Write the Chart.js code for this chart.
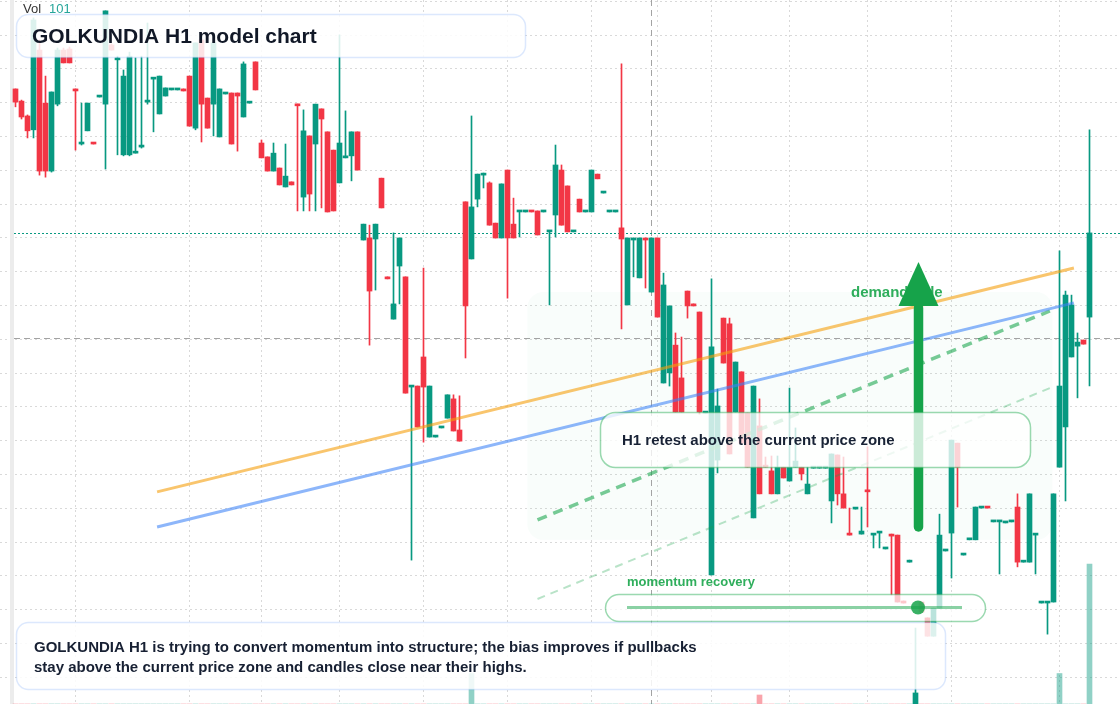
<!DOCTYPE html>
<html>
<head>
<meta charset="utf-8">
<title>GOLKUNDIA H1 model chart</title>
<script src="https://cdn.jsdelivr.net/npm/chart.js@4.4.1/dist/chart.umd.min.js"></script>
<style>
  html, body { margin: 0; padding: 0; background: #fff; }
  #wrap { position: relative; width: 1120px; height: 704px; }
</style>
</head>
<body>
<div id="wrap"><canvas id="chart_candles" width="1120" height="704"></canvas></div>
<script>
// H1 candles, one per hour (index 0 = oldest visible bar)
var opens = [
  144.41,144.05,143.61,143.20,145.56,143.99,141.98,143.96,145.56,145.59,
  144.41,142.78,143.17,142.81,144.17,143.96,145.71,145.27,142.46,142.46,
  142.51,142.69,144.02,144.70,143.67,144.20,144.38,144.38,144.41,144.79,
  143.25,145.86,144.14,143.96,142.99,144.26,144.29,144.29,143.58,143.99,
  145.21,142.81,142.40,141.98,142.07,141.51,141.66,143.96,141.21,143.02,
  142.78,143.82,143.14,142.60,141.63,142.37,142.43,143.14,139.94,140.00,
  139.97,141.77,138.85,137.60,139.17,138.85,135.59,135.62,136.48,134.11,
  134.11,134.38,134.67,135.24,134.32,141.07,139.38,141.15,141.86,141.63,
  140.44,140.00,142.01,140.41,140.77,140.77,140.80,140.80,140.77,140.18,
  140.68,142.01,141.54,140.18,141.15,140.77,140.77,141.89,141.33,140.77,
  140.77,140.30,138.02,139.94,138.82,140.00,138.40,140.00,135.71,136.01,
  136.83,135.86,138.43,138.05,137.81,134.82,130.03,133.43,137.63,137.46,
  134.85,136.04,134.82,131.72,134.44,133.28,133.11,132.43,133.22,132.81,
  133.22,133.22,132.43,133.19,133.19,133.19,132.22,133.58,132.43,131.27,
  131.98,131.24,132.54,131.21,131.27,130.80,131.24,131.21,129.26,130.41,
  125.89,129.23,128.76,128.22,129.05,130.74,131.27,133.93,130.62,131.07,
  131.07,132.01,132.04,131.60,131.60,131.57,131.60,132.04,130.41,130.41,
  131.21,129.20,129.20,129.23,133.22,134.41,136.48,136.80,136.98,137.66
];
var highs = [
  144.41,144.08,143.64,146.51,145.86,144.79,144.32,145.62,145.62,145.65,
  144.41,143.99,143.99,142.81,144.20,146.72,145.74,145.38,144.97,145.50,
  145.33,145.38,146.36,144.73,144.79,144.44,144.41,144.41,144.41,144.79,
  145.77,145.86,144.14,145.77,144.41,144.29,144.29,144.29,145.21,144.02,
  145.21,142.90,142.40,142.81,142.07,142.78,141.66,143.96,143.79,143.02,
  143.96,143.82,143.14,142.60,146.01,143.76,143.14,143.14,140.41,140.38,
  140.41,141.77,138.85,140.15,140.00,138.85,135.62,135.62,139.11,135.62,
  134.14,134.41,135.36,135.36,135.33,141.07,143.61,141.89,141.92,141.66,
  140.44,141.60,142.01,141.18,140.80,140.80,140.80,140.80,140.80,140.21,
  142.75,142.16,141.54,140.21,141.15,140.80,142.01,141.89,141.36,140.80,
  140.80,145.15,140.00,140.00,140.00,140.00,140.00,140.00,138.96,137.99,
  137.19,137.07,138.43,138.05,137.81,134.85,138.79,135.53,137.63,137.63,
  136.33,136.04,134.82,135.62,135.24,133.52,133.55,133.55,133.22,135.56,
  134.38,133.22,133.22,133.22,133.22,133.22,133.61,133.58,133.52,132.01,
  132.01,132.04,133.82,131.24,131.30,130.83,131.24,131.21,129.26,130.47,
  128.46,129.23,128.76,129.05,131.83,130.77,134.02,133.93,130.65,131.09,
  132.04,132.04,132.04,131.63,131.63,131.60,131.63,132.43,130.44,132.43,
  131.24,129.23,129.23,132.43,139.62,138.43,138.31,137.19,136.98,143.20
];
var lows = [
  143.88,143.52,142.96,142.96,141.86,141.80,141.95,143.91,145.18,145.18,
  142.60,142.75,143.17,142.78,144.17,142.04,145.56,142.46,142.43,142.43,
  142.51,142.66,143.96,143.14,143.67,144.20,144.38,144.38,144.35,143.31,
  143.20,142.84,143.25,143.02,142.99,144.26,142.78,142.57,143.58,143.99,
  144.38,142.37,141.98,141.98,141.57,141.51,141.57,140.80,140.80,140.80,
  140.80,140.89,140.77,140.80,141.63,142.37,141.69,142.01,139.94,136.83,
  138.46,140.89,138.79,137.60,138.05,135.41,130.47,134.41,133.96,134.11,
  134.11,134.38,134.67,134.29,133.99,136.45,139.38,140.92,141.48,140.38,
  140.00,140.00,138.22,140.00,140.03,140.77,140.77,140.09,140.77,138.02,
  140.03,140.38,140.18,140.18,140.77,140.77,140.77,141.75,141.33,140.77,
  140.77,137.31,138.02,138.85,138.82,138.52,138.40,137.66,135.71,135.62,
  134.85,134.85,137.63,137.99,134.79,134.82,130.03,133.05,136.30,133.61,
  134.85,133.93,133.22,131.72,132.43,133.22,132.43,132.43,132.90,132.81,
  133.22,132.84,132.43,133.19,133.19,133.19,131.57,132.10,132.01,131.21,
  131.98,131.24,131.45,130.83,130.83,130.80,129.44,129.23,129.20,130.41,
  125.86,128.93,128.22,128.22,129.05,130.74,129.94,132.04,130.62,131.07,
  131.07,132.01,132.01,131.60,130.06,131.57,131.60,130.27,130.41,130.41,
  130.06,129.20,128.28,129.23,133.22,132.22,136.48,135.27,136.86,135.62
];
var closes = [
  144.02,143.58,143.17,146.45,141.98,141.98,144.32,145.56,145.18,145.18,
  144.35,142.81,143.99,142.78,144.20,146.72,145.56,145.33,144.79,145.38,
  142.54,142.72,144.08,144.73,144.79,144.44,144.41,144.41,144.35,143.31,
  145.77,143.96,143.25,145.77,144.41,144.29,142.78,144.20,145.15,144.02,
  144.38,142.37,141.98,142.51,141.57,141.83,141.57,143.91,143.17,141.30,
  143.96,143.52,140.77,140.80,142.81,142.43,143.14,142.01,140.41,138.43,
  140.41,140.89,138.79,138.05,140.00,135.41,135.62,134.41,135.59,135.62,
  134.14,134.41,135.36,134.29,133.99,137.99,140.92,141.89,141.89,140.38,
  140.00,141.60,140.00,140.00,140.80,140.80,140.77,140.09,140.80,140.21,
  142.16,140.38,140.18,140.21,140.77,140.80,142.01,141.75,141.36,140.80,
  140.80,139.97,140.00,140.00,140.00,139.94,140.00,137.66,138.61,137.99,
  134.85,134.85,137.99,137.99,134.85,134.85,136.78,135.03,136.30,133.61,
  136.33,133.93,133.22,135.62,132.43,133.22,132.43,133.22,132.90,133.22,
  133.40,133.02,132.72,133.22,133.22,133.22,133.61,132.43,132.01,131.21,
  132.01,131.33,132.49,131.24,131.30,130.83,131.18,129.23,129.20,130.44,
  126.54,128.93,128.22,129.05,131.21,130.77,134.02,133.22,130.65,131.09,
  132.04,132.04,132.01,131.63,131.63,131.60,131.63,130.41,130.44,132.43,
  131.24,129.23,129.23,132.43,135.62,138.31,138.02,136.92,136.86,140.15
];
var volumes = [
  0,0,0,0,0,0,0,0,0,0,  0,0,0,0,0,0,0,0,0,0,
  0,0,0,0,0,0,0,0,0,0,  0,0,0,0,0,0,0,0,0,0,
  0,0,0,0,0,0,0,0,0,0,  0,0,0,0,0,0,0,0,0,0,
  0,0,0,0,0,0,0,0,0,0,  0,0,0,0,0,0,22,0,0,0,
  0,0,0,0,0,0,0,0,0,0,  0,0,0,0,0,0,0,0,0,0,
  0,0,0,0,0,0,0,0,0,0,  0,0,0,0,0,0,0,0,0,0,
  0,0,0,0,6.5,0,0,0,0,0,  0,0,0,0,0,0,0,0,0,0,
  0,0,0,0,0,0,0,0,0,0,  0,0,0,0,0,0,0,0,0,0,
  0,0,0,0,0,0,0,0,0,0,  0,0,0,0,22,0,0,0,0,101
];

// grid positions (bar index / price)
var gridIndex = [10, 29, 41, 54, 68, 82, 96, 107, 116, 129, 142, 156, 174];
var gridPrices = [127,128,129,130,131,132,133,134,135,136,137,138,139,140,141,142,143,144,145,146,147];

// overlays
var trendIndex = [23.6, 176.4];
var emaFast = [132.49, 139.11];
var emaSlow = [131.45, 138.08];
var channelIndex = [87, 172.4];
var channelTop = [131.66, 137.84];
var channelBottom = [129.32, 135.56];
var zoneIndex = [85.3, 172.8];
var zonePrice = [131.07, 138.40];
var arrowIndex = 150.5;
var arrowPrice = [131.45, 137.99, 139.29]; // shaft base, head base, tip
var crossIndex = 106;
var crossPrice = 137.04;

var UP = '#089981', DOWN = '#f23645';
var FONT = '"Liberation Sans", Arial, sans-serif';

var candleColors = closes.map(function (c, i) { return c >= opens[i] ? UP : DOWN; });
var volColors = closes.map(function (c, i) {
  return c >= opens[i] ? 'rgba(8,153,129,0.45)' : 'rgba(242,54,69,0.45)';
});

function rrect(ctx, x, y, w, h, r) {
  ctx.beginPath();
  ctx.moveTo(x + r, y);
  ctx.arcTo(x + w, y, x + w, y + h, r);
  ctx.arcTo(x + w, y + h, x, y + h, r);
  ctx.arcTo(x, y + h, x, y, r);
  ctx.arcTo(x, y, x + w, y, r);
  ctx.closePath();
}

function panel(ctx, x, y, w, h, r, fill, stroke) {
  rrect(ctx, x, y, w, h, r);
  ctx.fillStyle = fill;
  ctx.fill();
  ctx.lineWidth = 1.5;
  ctx.strokeStyle = stroke;
  ctx.stroke();
}

var overlay = {
  id: 'overlay',
  beforeDatasetsDraw: function (chart) {
    var ctx = chart.ctx, x = chart.scales.x, y = chart.scales.y;
    ctx.save();
    ctx.fillStyle = '#ececec';
    ctx.fillRect(10, 0, 4, chart.height);

    // demand zone
    var zx0 = x.getPixelForValue(zoneIndex[0]), zx1 = x.getPixelForValue(zoneIndex[1]);
    var zy0 = y.getPixelForValue(zonePrice[1]), zy1 = y.getPixelForValue(zonePrice[0]);
    rrect(ctx, zx0, zy0, zx1 - zx0, zy1 - zy0, 16);
    ctx.fillStyle = 'rgba(34,197,94,0.028)';
    ctx.fill();

    // crosshair
    ctx.lineWidth = 1;
    ctx.strokeStyle = '#a3a3a3';
    ctx.setLineDash([6, 4]);
    var cx = Math.round(x.getPixelForValue(crossIndex)) - 0.5;
    var cy = Math.round(y.getPixelForValue(crossPrice)) + 0.5;
    ctx.beginPath();
    ctx.moveTo(cx, 0); ctx.lineTo(cx, chart.height);
    ctx.moveTo(14, cy); ctx.lineTo(chart.width, cy);
    ctx.stroke();

    // last price line
    var ly = Math.round(y.getPixelForValue(closes[closes.length - 1])) + 0.5;
    ctx.strokeStyle = UP;
    ctx.setLineDash([2, 2]);
    ctx.beginPath();
    ctx.moveTo(14, ly); ctx.lineTo(chart.width, ly);
    ctx.stroke();
    ctx.restore();
  },
  afterDatasetsDraw: function (chart) {
    var ctx = chart.ctx, x = chart.scales.x, y = chart.scales.y;
    ctx.save();
    ctx.textBaseline = 'middle';

    // zone label
    ctx.font = 'bold 15px ' + FONT;
    ctx.fillStyle = '#2fae5c';
    ctx.fillText('demand side', 851, y.getPixelForValue(zonePrice[1]) + 1);

    // arrow
    var ax = x.getPixelForValue(arrowIndex);
    var yBase = y.getPixelForValue(arrowPrice[0]);
    var yHead = y.getPixelForValue(arrowPrice[1]);
    var yTip = y.getPixelForValue(arrowPrice[2]);
    ctx.strokeStyle = '#16a34a';
    ctx.fillStyle = '#16a34a';
    ctx.lineWidth = 9.5;
    ctx.lineCap = 'round';
    ctx.beginPath();
    ctx.moveTo(ax, yBase); ctx.lineTo(ax, yHead + 2);
    ctx.stroke();
    ctx.beginPath();
    ctx.moveTo(ax - 20, yHead); ctx.lineTo(ax + 20, yHead); ctx.lineTo(ax, yTip);
    ctx.closePath();
    ctx.fill();
    ctx.lineCap = 'butt';

    // callout
    panel(ctx, 600.5, 412.5, 430, 55, 15, 'rgba(255,255,255,0.78)', 'rgba(34,170,80,0.45)');
    ctx.font = 'bold 15px ' + FONT;
    ctx.fillStyle = '#182235';
    ctx.fillText('H1 retest above the current price zone', 622, 441);

    // momentum pill
    panel(ctx, 605.5, 594.5, 380, 27, 13.5, 'rgba(255,255,255,0.72)', 'rgba(34,170,80,0.45)');
    ctx.strokeStyle = 'rgba(22,163,74,0.5)';
    ctx.lineWidth = 3;
    ctx.beginPath();
    ctx.moveTo(627, 607.5); ctx.lineTo(962, 607.5);
    ctx.stroke();
    ctx.beginPath();
    ctx.arc(918, 607.5, 7, 0, Math.PI * 2);
    ctx.fillStyle = 'rgba(22,163,74,0.85)';
    ctx.fill();
    ctx.font = 'bold 13px ' + FONT;
    ctx.fillStyle = '#2fae5c';
    ctx.fillText('momentum recovery', 627, 582.5);

    // title
    panel(ctx, 16.5, 14.5, 509, 43, 12, 'rgba(255,255,255,0.86)', 'rgba(59,130,246,0.18)');
    ctx.font = 'bold 21px ' + FONT;
    ctx.fillStyle = '#111827';
    ctx.fillText('GOLKUNDIA H1 model chart', 32, 37);

    // notes
    panel(ctx, 16.5, 622.5, 929, 67, 12, 'rgba(255,255,255,0.86)', 'rgba(59,130,246,0.18)');
    ctx.font = 'bold 15px ' + FONT;
    ctx.fillStyle = '#172033';
    ctx.fillText('GOLKUNDIA H1 is trying to convert momentum into structure; the bias improves if pullbacks', 34, 647.5);
    ctx.fillText('stay above the current price zone and candles close near their highs.', 34, 667.5);

    // volume legend
    ctx.font = '13px ' + FONT;
    ctx.fillStyle = '#333333';
    ctx.fillText('Vol', 23, 9);
    ctx.fillStyle = '#26a69a';
    ctx.fillText(String(volumes[volumes.length - 1]), 49, 9);
    ctx.restore();
  }
};

function pts(xs, ys) {
  return xs.map(function (v, k) { return { x: v, y: ys[k] }; });
}

var ctx = document.getElementById('chart_candles');
var myChart = new Chart(ctx, {
  type: 'bar',
  data: {
    datasets: [
      { type: 'line', label: 'fast', data: pts(trendIndex, emaFast), borderColor: 'rgba(245,158,11,0.6)',
        borderWidth: 3, pointRadius: 0, order: 1 },
      { type: 'line', label: 'slow', data: pts(trendIndex, emaSlow), borderColor: 'rgba(59,130,246,0.58)',
        borderWidth: 3, pointRadius: 0, order: 1 },
      { type: 'line', label: 'channel top', data: pts(channelIndex, channelTop), borderColor: 'rgba(22,163,74,0.58)',
        borderWidth: 3.5, borderDash: [10, 7], pointRadius: 0, order: 1 },
      { type: 'line', label: 'channel bottom', data: pts(channelIndex, channelBottom), borderColor: 'rgba(22,163,74,0.3)',
        borderWidth: 2, borderDash: [8, 6], pointRadius: 0, order: 1 },
      { label: 'body', data: opens.map(function (o, i) { return { x: i, y: [o, closes[i]] }; }),
        backgroundColor: candleColors, barThickness: 5, minBarLength: 2, grouped: false, order: 2 },
      { label: 'wick', data: lows.map(function (l, i) { return { x: i, y: [l, highs[i]] }; }),
        backgroundColor: candleColors, barThickness: 1, grouped: false, order: 3 },
      { label: 'volume', yAxisID: 'vol', data: volumes.map(function (v, i) { return { x: i, y: v }; }),
        backgroundColor: volColors, barThickness: 5, grouped: false, order: 4 }
    ]
  },
  options: {
    responsive: false,
    animation: false,
    events: [],
    devicePixelRatio: 1,
    layout: { padding: 0 },
    plugins: { legend: { display: false }, tooltip: { enabled: false } },
    scales: {
      x: {
        type: 'linear', min: -2.5833, max: 184.0833, offset: false,
        grid: { color: '#d9d9d9', drawTicks: false, offset: false },
        border: { display: false, dash: [2, 3] },
        ticks: { display: false },
        afterBuildTicks: function (s) { s.ticks = gridIndex.map(function (v) { return { value: v }; }); },
        afterFit: function (s) { s.height = 0; }
      },
      y: {
        type: 'linear', min: 126.213, max: 147.041,
        grid: { color: '#d9d9d9', drawTicks: false },
        border: { display: false, dash: [2, 3] },
        ticks: { display: false },
        afterBuildTicks: function (s) { s.ticks = gridPrices.map(function (v) { return { value: v }; }); },
        afterFit: function (s) { s.width = 0; }
      },
      vol: { type: 'linear', display: false, min: 0, max: 508 }
    }
  },
  plugins: [overlay]
});
</script>
</body>
</html>
